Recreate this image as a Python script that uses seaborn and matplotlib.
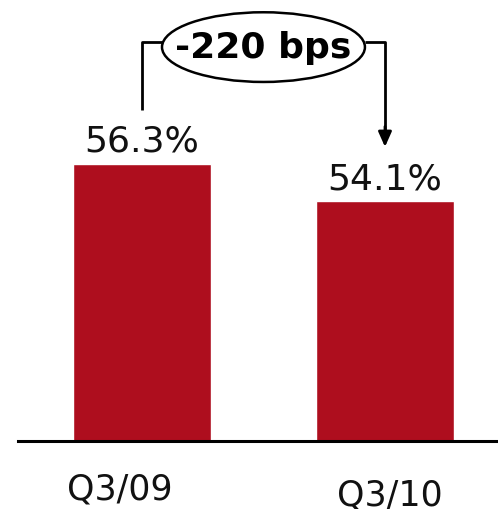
import matplotlib
matplotlib.use("Agg")
import matplotlib.pyplot as plt
import matplotlib.transforms as mtransforms
from matplotlib.patches import Ellipse
import seaborn as sns
import pandas as pd

quarters = ["Q3/09", "Q3/10"]
margins = [56.3, 54.1]
change_label = "-220 bps"

bar_color = "#AE0E1E"

sns.set_style("white")
plt.rcParams["font.family"] = ["DejaVu Sans"]

df = pd.DataFrame({"quarter": quarters, "margin": margins})

fig = plt.figure(figsize=(4.98, 5.10), dpi=100)
ax = fig.add_axes([18 / 498, 68 / 510, 480 / 498, 442 / 510])

sns.barplot(data=df, x="quarter", y="margin", color=bar_color,
            saturation=1, width=0.568, ax=ax)

ax.set_ylim(40, 66)
ax.set_xlim(-0.51, 1.465)
ax.set_xlabel("")
ax.set_ylabel("")
ax.set_yticks([])
for side in ["top", "left", "right"]:
    ax.spines[side].set_visible(False)
ax.spines["bottom"].set_linewidth(2.2)
ax.spines["bottom"].set_color("black")
ax.tick_params(axis="x", length=0, labelsize=25, pad=22, labelcolor="#111111")

# nudge category labels to their drawn positions
shifts = [(-22, 0), (5, -6)]
for lbl, (dx, dy) in zip(ax.get_xticklabels(), shifts):
    lbl.set_transform(lbl.get_transform() +
                      mtransforms.ScaledTranslation(dx / 100, dy / 100, fig.dpi_scale_trans))

# value labels above the bars
for i, v in enumerate(margins):
    ax.annotate(f"{v}%", xy=(i, v), xytext=(0, 9.5), textcoords="offset points",
                ha="center", va="baseline", fontsize=26, color="#111111")

# change bracket: from above the first label, through the badge, down to the second
bracket_y = 63.47
lift = 3.2
ell_cx, ell_w, ell_h = 0.5, 0.835, 4.1
ax.plot([0, 0, ell_cx - ell_w / 2], [margins[0] + lift, bracket_y, bracket_y],
        color="black", lw=2, solid_capstyle="butt", clip_on=False)
ax.plot([ell_cx + ell_w / 2, 1, 1], [bracket_y, bracket_y, margins[1] + lift + 1.0],
        color="black", lw=2, solid_capstyle="butt", clip_on=False)
ax.annotate("", xy=(1, margins[1] + lift), xytext=(1, margins[1] + lift + 1.2),
            arrowprops=dict(arrowstyle="-|>,head_length=0.9,head_width=0.4",
                            color="black", lw=2, shrinkA=0, shrinkB=0))

ax.add_patch(Ellipse((ell_cx, bracket_y - 0.3), ell_w, ell_h, facecolor="white",
                     edgecolor="black", lw=1.8, clip_on=False, zorder=5))
ax.text(ell_cx, bracket_y - 0.3, change_label, ha="center", va="center",
        fontsize=26, fontweight="bold", color="black", zorder=6)

fig.savefig("out.png", dpi=100)
